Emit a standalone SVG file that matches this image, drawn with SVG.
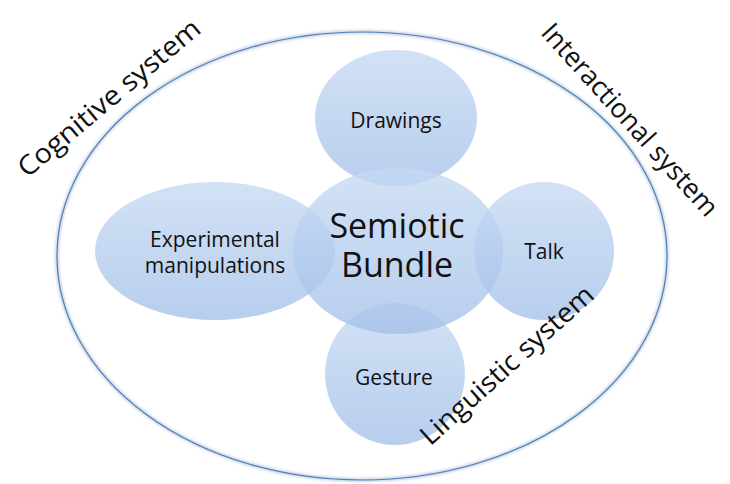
<svg xmlns="http://www.w3.org/2000/svg" width="730" height="484" viewBox="0 0 730 484">
<style>
  .lbl { font-family: "Open Sans", "Liberation Sans", sans-serif; fill: #111; text-anchor: middle; }
  .sys { font-family: "Open Sans", "Liberation Sans", sans-serif; fill: #111; text-anchor: middle; font-size: 27px; }
  .bub { fill: url(#g); fill-opacity: 0.78; }
</style>
<defs>
  <linearGradient id="g" x1="0" y1="0" x2="0" y2="1">
    <stop offset="0" stop-color="#c6daf3"/>
    <stop offset="1" stop-color="#a3c0e8"/>
  </linearGradient>
  <filter id="sh" x="-5%" y="-5%" width="110%" height="110%">
    <feGaussianBlur stdDeviation="1.5"/>
  </filter>
</defs>
<rect width="730" height="484" fill="#ffffff"/>
<g id="outer">
  <ellipse cx="362" cy="256" rx="305" ry="224" fill="none" stroke="#b8c8dc" stroke-width="3" filter="url(#sh)"/>
  <ellipse cx="362" cy="256" rx="305" ry="224" fill="none" stroke="#4f7fb6" stroke-width="1.2"/>
</g>
<g id="experimental">
  <ellipse class="bub" cx="215" cy="251" rx="120" ry="69"/>
  <text class="lbl" x="215" y="247" font-size="21">Experimental</text>
  <text class="lbl" x="215" y="273" font-size="21">manipulations</text>
</g>
<g id="talk">
  <ellipse class="bub" cx="544" cy="251" rx="70" ry="69"/>
  <text class="lbl" x="544" y="259" font-size="21">Talk</text>
</g>
<g id="drawings">
  <ellipse class="bub" cx="396" cy="118" rx="81" ry="68"/>
  <text class="lbl" x="396" y="128" font-size="21">Drawings</text>
</g>
<g id="gesture">
  <ellipse class="bub" cx="395" cy="374" rx="70" ry="71"/>
  <text class="lbl" x="394" y="385" font-size="21">Gesture</text>
</g>
<g id="semiotic">
  <ellipse class="bub" cx="398" cy="251" rx="105" ry="83"/>
  <text class="lbl" x="397" y="238" font-size="34">Semiotic</text>
  <text class="lbl" x="397" y="277" font-size="34">Bundle</text>
</g>
<g id="connectors"></g>
<g id="labels">
  <text class="sys" transform="translate(115,105) rotate(-40)" textLength="229" lengthAdjust="spacingAndGlyphs">Cognitive system</text>
  <text class="sys" transform="translate(623,126) rotate(48)" textLength="249" lengthAdjust="spacingAndGlyphs">Interactional system</text>
  <text class="sys" transform="translate(513,372) rotate(-42)" textLength="223" lengthAdjust="spacingAndGlyphs">Linguistic system</text>
</g>
</svg>
